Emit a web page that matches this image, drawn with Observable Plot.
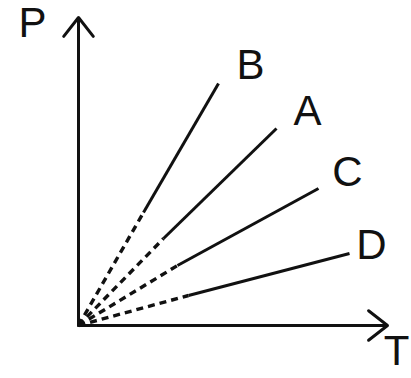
<!DOCTYPE html>
<html>
<head>
<meta charset="utf-8">
<script src="https://cdn.jsdelivr.net/npm/d3@7"></script>
<script src="https://cdn.jsdelivr.net/npm/@observablehq/plot@0.6"></script>
<style>
  html, body { margin: 0; padding: 0; background: #fff; }
</style>
</head>
<body>
<div id="chart"></div>
<script>
// Series labels and line geometry (T, P in chart units)
const names = ["B", "A", "C", "D"];
const endT = [140, 198, 240, 271];
const endP = [242, 197, 137, 72];
const solidStartT = [65, 85, 99, 110];
const solidStartP = [113, 87, 60, 30];
const labelT = [172, 229, 269, 293];
const labelP = [260, 214, 153, 80];

// Axes
const axisNames = ["P", "T"];
const axisEndT = [0, 309];
const axisEndP = [308, 0];
const axisLabelT = [-46, 318];
const axisLabelP = [302, -26];

const seg = names.map((n, i) => ({
  name: n, t0: solidStartT[i], p0: solidStartP[i], t1: endT[i], p1: endP[i],
  lt: labelT[i], lp: labelP[i]
}));
const axes = axisNames.map((n, i) => ({
  name: n, t: axisEndT[i], p: axisEndP[i], lt: axisLabelT[i], lp: axisLabelP[i]
}));

const ink = "#111";
const font = "Liberation Sans, Arial, sans-serif";

const chart = Plot.plot({
  width: 411,
  height: 378,
  margin: 0,
  x: { domain: [0, 310], range: [78, 388], axis: null },
  y: { domain: [0, 310], range: [325, 15], axis: null },
  style: { fontFamily: font, background: "#fff" },
  marks: [
    Plot.arrow(axes, {
      x1: 0, y1: 0, x2: "t", y2: "p",
      stroke: ink, strokeWidth: 3, headLength: 12, headAngle: 76
    }),
    Plot.link(seg, {
      x1: 0, y1: 0, x2: "t0", y2: "p0",
      stroke: ink, strokeWidth: 3.4, strokeDasharray: "7,5"
    }),
    Plot.link(seg, {
      x1: "t0", y1: "p0", x2: "t1", y2: "p1",
      stroke: ink, strokeWidth: 3
    }),
    Plot.text(seg, {
      x: "lt", y: "lp", text: "name", fontSize: 42, fill: ink,
      textAnchor: "middle", lineAnchor: "middle"
    }),
    Plot.text(axes, {
      x: "lt", y: "lp", text: "name", fontSize: 42, fill: ink,
      textAnchor: "middle", lineAnchor: "middle"
    })
  ]
});
document.getElementById("chart").appendChild(chart);
</script>
</body>
</html>
